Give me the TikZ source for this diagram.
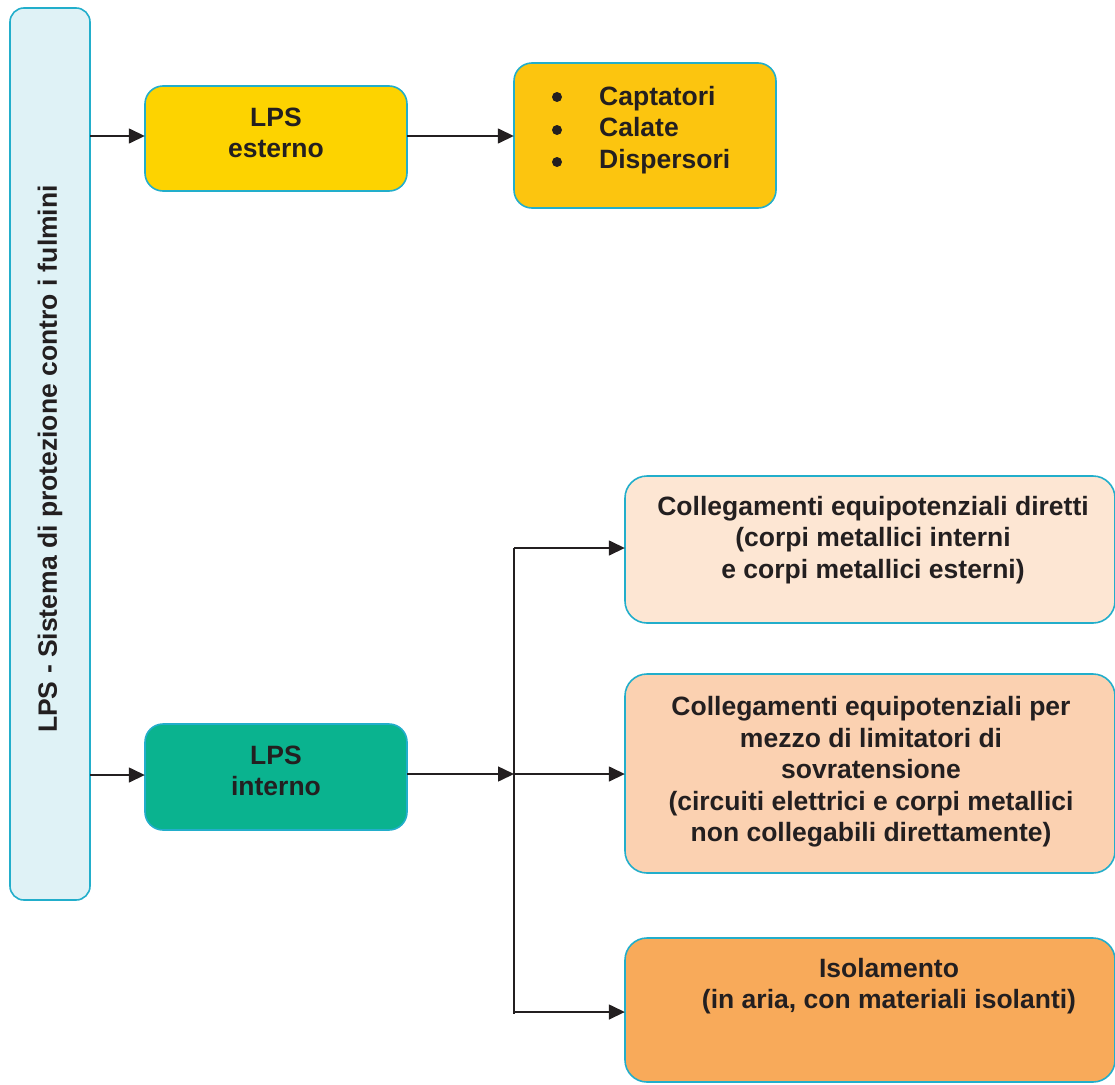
\documentclass[tikz,border=0pt]{standalone}
\usepackage{fontspec}
\setmainfont{Liberation Sans}
\usetikzlibrary{arrows.meta}
\definecolor{bordc}{HTML}{22AECB}
\definecolor{mainfill}{HTML}{DFF2F6}
\definecolor{extfill}{HTML}{FDD300}
\definecolor{capfill}{HTML}{FCC50F}
\definecolor{intfill}{HTML}{0AB38F}
\definecolor{rafill}{HTML}{FDE6D3}
\definecolor{rbfill}{HTML}{FBD1B1}
\definecolor{rcfill}{HTML}{F8AA5A}
\definecolor{txt}{HTML}{231F20}
\tikzset{
  boxstyle/.style={draw=bordc, line width=1.6pt, rounded corners=18pt},
  lbl/.style={text=txt, font=\bfseries\fontsize{26.5}{31.5}\selectfont, align=center, inner sep=0pt},
  conn/.style={draw=txt, line width=1.5pt},
  arr/.style={conn, -{Triangle[length=16pt,width=15pt]}}
}
\begin{document}
\begin{tikzpicture}[x=1pt,y=-1pt]
\useasboundingbox (0,0) rectangle (1115,1084);
% boxes
\draw[boxstyle, rounded corners=14pt, fill=mainfill] (10,8) rectangle (90,900);
\node[inner sep=0pt, minimum width=80pt, minimum height=892pt] (main) at (50,454) {};
\draw[boxstyle, fill=extfill] (145,86) rectangle (407,191);
\node[inner sep=0pt, minimum width=262pt, minimum height=105pt] (ext) at (276,138.5) {};
\draw[boxstyle, fill=capfill] (514,63) rectangle (776,208);
\node[inner sep=0pt, minimum width=262pt, minimum height=145pt] (cap) at (645,135.5) {};
\draw[boxstyle, fill=intfill] (145,724) rectangle (407,830);
\node[inner sep=0pt, minimum width=262pt, minimum height=106pt] (int) at (276,777) {};
\draw[boxstyle, rounded corners=22pt, fill=rafill] (625,476) rectangle (1115,623);
\node[inner sep=0pt, minimum width=490pt, minimum height=147pt] (ra) at (870,549.5) {};
\draw[boxstyle, rounded corners=22pt, fill=rbfill] (625,674) rectangle (1115,873);
\node[inner sep=0pt, minimum width=490pt, minimum height=199pt] (rb) at (870,773.5) {};
\draw[boxstyle, rounded corners=22pt, fill=rcfill] (625,938) rectangle (1115,1082);
\node[inner sep=0pt, minimum width=490pt, minimum height=144pt] (rc) at (870,1010) {};
% texts
\node[lbl, rotate=90] (maintxt) at (50,459) {LPS - Sistema di protezione contro i fulmini};
\node[lbl] (exttxt) at (276,133) {LPS\\esterno};
\node[lbl] (inttxt) at (276,771) {LPS\\interno};
\node[lbl, align=left, anchor=west] (captxt) at (599,130) {Captatori\\Calate\\Dispersori};
\foreach \yy in {97,130,162}{
  \fill[txt] (557,\yy) circle (5pt);
}
\node[lbl] (ratxt) at (873,540) {Collegamenti equipotenziali diretti\\(corpi metallici interni\\e corpi metallici esterni)};
\node[lbl] (rbtxt) at (871,772) {Collegamenti equipotenziali per\\mezzo di limitatori di\\sovratensione\\(circuiti elettrici e corpi metallici\\non collegabili direttamente)};
\node[lbl] (rctxt) at (889,986) {Isolamento\\(in aria, con materiali isolanti)};
% connectors
\coordinate (bustop) at (514,548);
\coordinate (busmid) at (514,774);
\coordinate (busbot) at (514,1014);
\draw[arr] (main.east |- 0,136) -- (ext.west |- 0,136);
\draw[arr] (main.east |- 0,775) -- (int.west |- 0,775);
\draw[arr] (ext.east |- 0,136) -- (cap.west |- 0,136);
\draw[arr] (int.east |- busmid) -- (busmid);
\draw[conn] (bustop) -- (busbot);
\draw[arr] (bustop) -- (bustop -| ra.west);
\draw[arr] (busmid) -- (busmid -| rb.west);
\draw[arr] (514,1012) -- (rc.west |- 0,1012);
\end{tikzpicture}
\end{document}
